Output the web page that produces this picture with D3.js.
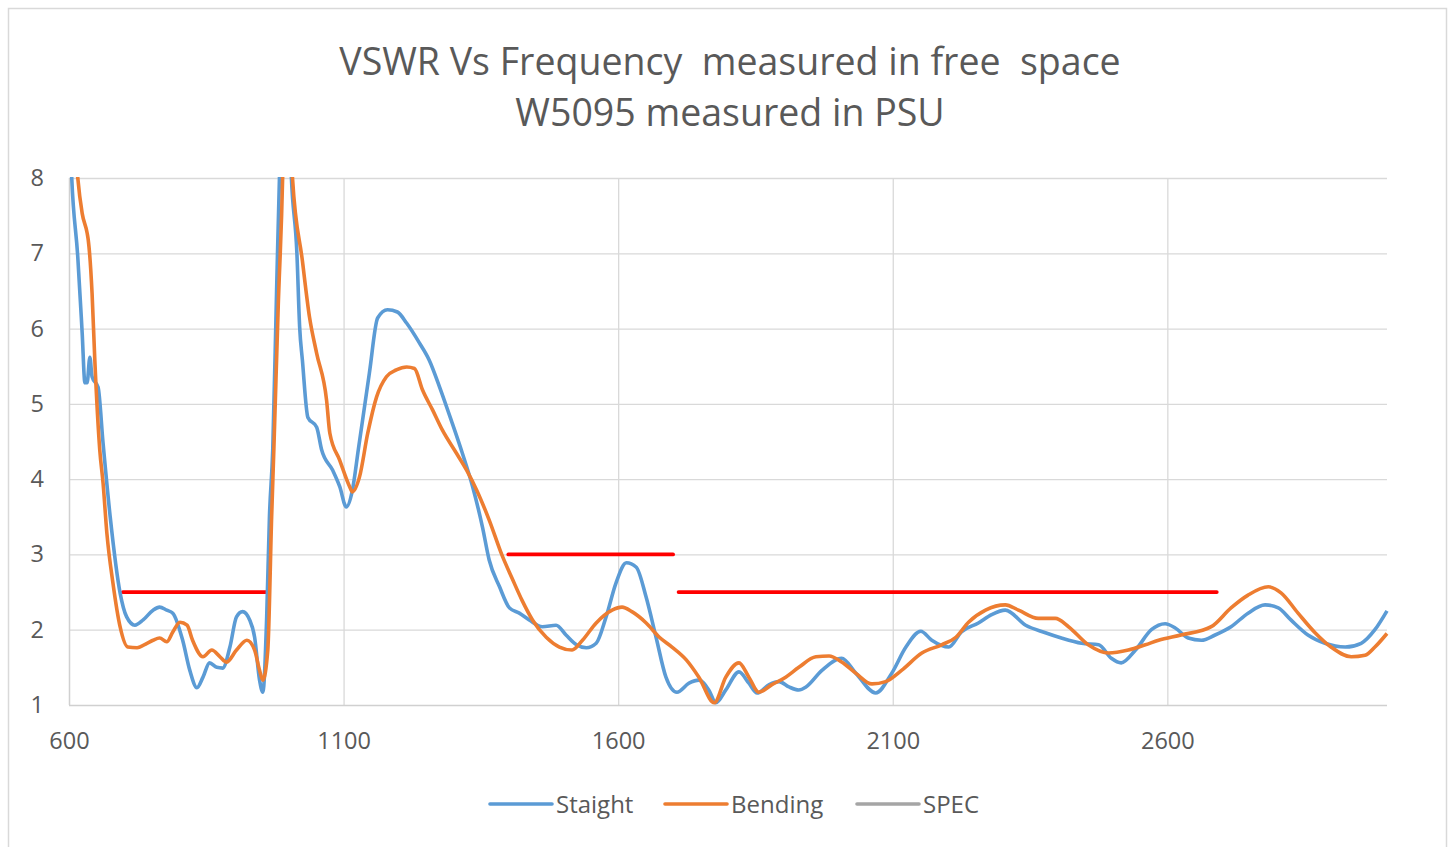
<!DOCTYPE html>
<html><head><meta charset="utf-8">
<script src="https://cdn.jsdelivr.net/npm/d3@7"></script>
<style>
html,body{margin:0;padding:0;background:#fff;}
svg{display:block;font-family:"Open Sans","Liberation Sans",sans-serif;}
</style></head>
<body><svg id="c" width="1455" height="847"></svg>
<script>
const titleLines = ["VSWR Vs Frequency  measured in free  space", "W5095 measured in PSU"];
const xTicks = [600, 1100, 1600, 2100, 2600];
const yTicks = [1, 2, 3, 4, 5, 6, 7, 8];
const seriesNames = ["Staight", "Bending", "SPEC"];

const straightFreq = [600,605,616,624,629,633,638,642,653,662,675,693,705,720,735,753,765,778,789,807,820,833,844,856,869,880,893,905,916,929,938,947,953,960,965,971,978,985,993,1000,1005,1015,1020,1025,1035,1051,1060,1080,1093,1105,1116,1127,1147,1162,1180,1198,1215,1238,1256,1275,1298,1316,1335,1353,1365,1384,1402,1420,1438,1462,1487,1505,1524,1542,1560,1578,1596,1615,1633,1651,1669,1687,1707,1729,1747,1765,1778,1796,1820,1838,1853,1875,1893,1911,1929,1942,1971,2007,2033,2069,2098,2124,2151,2171,2202,2225,2256,2280,2305,2342,2378,2407,2444,2475,2498,2516,2542,2571,2596,2615,2638,2662,2687,2716,2747,2778,2802,2825,2856,2887,2924,2953,2978,3000];
const straightVswr = [9.0,8.0,6.95,5.94,5.28,5.28,5.62,5.36,5.22,4.48,3.5,2.49,2.17,2.06,2.13,2.26,2.3,2.26,2.22,1.86,1.46,1.23,1.37,1.56,1.5,1.49,1.77,2.17,2.24,2.13,1.9,1.33,1.17,2.17,3.5,4.39,6.5,8.5,10.0,9.0,8.0,7.0,6.02,5.58,4.82,4.69,4.39,4.12,3.9,3.63,3.85,4.4,5.41,6.14,6.25,6.22,6.07,5.81,5.58,5.22,4.74,4.35,3.9,3.36,2.93,2.57,2.29,2.22,2.13,2.04,2.06,1.93,1.8,1.76,1.82,2.17,2.62,2.89,2.83,2.43,1.9,1.37,1.17,1.29,1.33,1.2,1.03,1.2,1.44,1.29,1.16,1.27,1.31,1.24,1.2,1.24,1.46,1.62,1.42,1.16,1.42,1.77,1.98,1.86,1.77,1.97,2.09,2.2,2.26,2.06,1.96,1.89,1.82,1.8,1.62,1.56,1.73,2.0,2.08,2.02,1.89,1.86,1.93,2.04,2.22,2.33,2.29,2.13,1.93,1.82,1.77,1.82,2.0,2.25];

const bendingFreq = [600,610,616,624,633,635,642,647,656,662,669,680,693,707,724,742,753,765,778,789,802,815,825,844,860,875,887,905,924,938,947,953,962,969,973,981,989,993,1000,1007,1025,1038,1051,1069,1075,1093,1111,1116,1129,1144,1160,1178,1196,1215,1229,1244,1262,1280,1305,1324,1342,1365,1389,1407,1425,1444,1469,1493,1516,1535,1560,1589,1607,1625,1651,1675,1698,1724,1747,1775,1796,1820,1838,1856,1880,1905,1929,1960,1984,2007,2033,2062,2087,2116,2153,2189,2215,2238,2269,2305,2329,2365,2396,2420,2456,2493,2529,2560,2584,2625,2680,2716,2747,2784,2807,2838,2869,2898,2935,2960,2978,3000];
const bendingVswr = [10.0,8.6,8.0,7.53,7.27,7.18,6.47,5.58,4.39,3.95,3.28,2.62,2.04,1.77,1.76,1.82,1.86,1.89,1.84,1.97,2.1,2.06,1.86,1.64,1.73,1.64,1.57,1.73,1.86,1.73,1.46,1.33,1.73,3.5,4.39,6.3,8.0,9.5,9.0,8.0,6.9,6.15,5.67,5.05,4.61,4.25,3.9,3.83,4.03,4.61,5.09,5.36,5.45,5.49,5.47,5.18,4.92,4.65,4.35,4.12,3.86,3.46,2.98,2.68,2.39,2.13,1.9,1.77,1.73,1.86,2.09,2.26,2.3,2.24,2.09,1.9,1.77,1.6,1.37,1.03,1.37,1.56,1.37,1.17,1.27,1.37,1.5,1.64,1.65,1.57,1.42,1.28,1.31,1.46,1.69,1.8,1.9,2.1,2.26,2.33,2.26,2.15,2.15,2.04,1.8,1.69,1.73,1.8,1.86,1.93,2.04,2.29,2.46,2.57,2.49,2.22,1.96,1.77,1.64,1.66,1.77,1.95];

// SPEC limit segments: start frequency, end frequency, VSWR limit
const specStart = [698, 1400, 1710];
const specEnd = [960, 1700, 2690];
const specValue = [2.5, 3.0, 2.5];

const colors = {Staight: "#5B9BD5", Bending: "#ED7D31", SPEC: "#A5A5A5"};
const specLineColor = "#FF0000";

const svg = d3.select("#c");
svg.append("rect").attr("x", 8.5).attr("y", 8.5).attr("width", 1438).attr("height", 845)
  .attr("fill", "#fff").attr("stroke", "#D9D9D9").attr("stroke-width", 1.5);

const pLeft = 69, pRight = 1387, pTop = 178, pBottom = 705;
const x = d3.scaleLinear().domain([600, 3000]).range([pLeft, pRight]);
const y = d3.scaleLinear().domain([1, 8]).range([pBottom, pTop]);

const title = svg.append("text").attr("text-anchor", "middle").attr("fill", "#595959")
  .attr("font-size", 37.5).style("white-space", "pre");
titleLines.forEach((t, i) => {
  title.append("tspan").attr("x", 730).attr("y", 75 + i * 51).text(t);
});

const g = svg.append("g");
g.selectAll(".hg").data(yTicks.filter(d => d !== 1)).join("line")
  .attr("x1", pLeft).attr("x2", pRight).attr("y1", d => y(d) + 0.5).attr("y2", d => y(d) + 0.5)
  .attr("stroke", "#D9D9D9").attr("stroke-width", 1.3);
g.selectAll(".vg").data(xTicks.filter(d => d !== 600)).join("line")
  .attr("y1", pTop).attr("y2", pBottom).attr("x1", d => x(d) + 0.5).attr("x2", d => x(d) + 0.5)
  .attr("stroke", "#D9D9D9").attr("stroke-width", 1.3);
g.append("line").attr("x1", pLeft).attr("x2", pRight).attr("y1", pBottom + 0.5).attr("y2", pBottom + 0.5)
  .attr("stroke", "#D0D0D0").attr("stroke-width", 1.5);
g.append("line").attr("x1", pLeft + 0.5).attr("x2", pLeft + 0.5).attr("y1", pTop).attr("y2", pBottom)
  .attr("stroke", "#D0D0D0").attr("stroke-width", 1.5);

const xAxis = svg.append("g").attr("transform", `translate(0,${pBottom})`)
  .call(d3.axisBottom(x).tickValues(xTicks).tickSize(0).tickPadding(27).tickFormat(d3.format("d")));
const yAxis = svg.append("g").attr("transform", `translate(${pLeft},0)`)
  .call(d3.axisLeft(y).tickValues(yTicks).tickSize(0).tickPadding(25).tickFormat(d3.format("d")));
[xAxis, yAxis].forEach(a => {
  a.select(".domain").remove();
  a.selectAll("text").attr("fill", "#595959").attr("font-size", 23.5)
    .attr("font-family", "'Open Sans','Liberation Sans',sans-serif");
});

svg.append("clipPath").attr("id", "clip").append("rect")
  .attr("x", pLeft).attr("y", pTop - 1).attr("width", pRight - pLeft + 2).attr("height", pBottom - pTop + 4);

const line = d3.line().x(d => x(d[0])).y(d => y(d[1])).curve(d3.curveMonotoneX);
const plot = svg.append("g").attr("clip-path", "url(#clip)");

plot.selectAll(".spec").data(specStart.map((s, i) => [[s, specValue[i]], [specEnd[i], specValue[i]]]))
  .join("path").attr("d", line).attr("fill", "none").attr("stroke", specLineColor)
  .attr("stroke-width", 3.8).attr("stroke-linecap", "round");

const straight = straightFreq.map((f, i) => [f, straightVswr[i]]);
const bending = bendingFreq.map((f, i) => [f, bendingVswr[i]]);

plot.append("path").datum(straight).attr("d", line).attr("fill", "none")
  .attr("stroke", colors.Staight).attr("stroke-width", 3.6).attr("stroke-linejoin", "round");
plot.append("path").datum(bending).attr("d", line).attr("fill", "none")
  .attr("stroke", colors.Bending).attr("stroke-width", 3.6).attr("stroke-linejoin", "round");

const legendX = [490, 665, 857];
const leg = svg.append("g");
seriesNames.forEach((n, i) => {
  leg.append("line").attr("x1", legendX[i]).attr("x2", legendX[i] + 62).attr("y1", 804).attr("y2", 804)
    .attr("stroke", colors[n]).attr("stroke-width", 3.6).attr("stroke-linecap", "round");
  leg.append("text").attr("x", legendX[i] + 66).attr("y", 813).attr("fill", "#595959")
    .attr("font-size", 24).text(n);
});
</script></body></html>
